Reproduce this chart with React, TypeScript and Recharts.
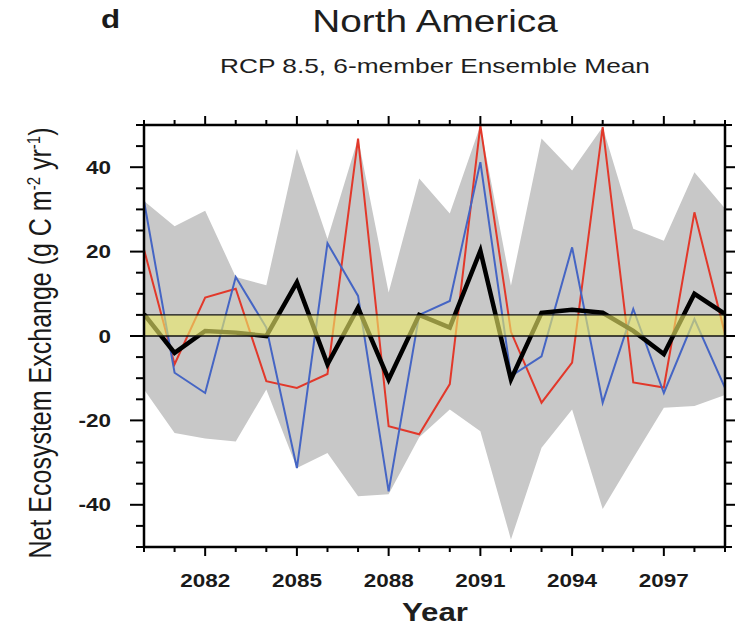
import React from 'react';
import { ComposedChart, Area, Line, XAxis, YAxis, ReferenceArea, ReferenceLine } from 'recharts';

// years of the run
const years = [2080, 2081, 2082, 2083, 2084, 2085, 2086, 2087, 2088, 2089, 2090, 2091, 2092, 2093, 2094, 2095, 2096, 2097, 2098, 2099];

// NEE, g C m-2 yr-1
const ensembleMean = [5.2, -4, 1.2, 0.8, 0, 12.7, -6.7, 6.7, -10.3, 5, 2, 20.2, -10.3, 5.5, 6.2, 5.5, 1.2, -4.3, 10, 5.2];
const memberRed = [20.5, -6.7, 9.1, 11.2, -10.7, -12.3, -9, 46.8, -21.4, -23.3, -11.4, 49.9, 1, -15.8, -6.3, 49.5, -11, -12.2, 29.3, 0.5];
const memberBlue = [32, -8.7, -13.5, 14, 2, -31.3, 22, 9.5, -36.8, 5, 8.3, 41.2, -9.5, -4.8, 21, -15.8, 6.4, -13.5, 4, -12.3];
const spreadMax = [32, 26, 29.7, 14, 12, 44.4, 23, 46.8, 10.3, 37.3, 29, 49.9, 11.9, 46.8, 39.2, 49.5, 25.4, 22.6, 38.8, 30.2];
const spreadMin = [-12.7, -23, -24.3, -25, -12.7, -31.3, -27.7, -38, -37.5, -24, -17.4, -22.6, -48.2, -26.5, -17.4, -41, -28.9, -17, -16.6, -14];

// the yellow band
const bandLow = 0;
const bandHigh = 5;

const xTicks = years;
const xTickLabels = [2082, 2085, 2088, 2091, 2094, 2097];
const yTicks = [-50, -45, -40, -35, -30, -25, -20, -15, -10, -5, 0, 5, 10, 15, 20, 25, 30, 35, 40, 45, 50];
const yTickLabels = [-40, -20, 0, 20, 40];

const data = years.map((year, i) => ({
  year,
  mean: ensembleMean[i],
  red: memberRed[i],
  blue: memberBlue[i],
  spread: [spreadMin[i], spreadMax[i]],
}));

const FONT = '"Liberation Sans", Arial, Helvetica, sans-serif';
const WIDE = 1.25; // the original lettering is stretched sideways

const BottomTick = (props: any) => {
  const { x, y, payload } = props;
  const major = xTickLabels.includes(payload.value);
  return (
    <g>
      <line x1={x} y1={y} x2={x} y2={y + (major ? 9 : 5)} stroke="#000" strokeWidth={2} />
      {major && (
        <text
          transform={`translate(${x},${y + 40}) scale(${WIDE},1)`}
          textAnchor="middle"
          fontFamily={FONT}
          fontWeight="bold"
          fontSize={18}
          fill="#1a1a1a"
        >
          {payload.value}
        </text>
      )}
    </g>
  );
};

const TopTick = (props: any) => {
  const { x, y, payload } = props;
  const major = xTickLabels.includes(payload.value);
  return <line x1={x} y1={y} x2={x} y2={y - (major ? 9 : 5)} stroke="#000" strokeWidth={2} />;
};

const LeftTick = (props: any) => {
  const { x, y, payload } = props;
  const major = yTickLabels.includes(payload.value);
  return (
    <g>
      <line x1={x} y1={y} x2={x - (major ? 14 : 8)} y2={y} stroke="#000" strokeWidth={2} />
      {major && (
        <text
          transform={`translate(${x - 33},${y + 6.5}) scale(${WIDE},1)`}
          textAnchor="end"
          fontFamily={FONT}
          fontWeight="bold"
          fontSize={18}
          fill="#1a1a1a"
        >
          {payload.value}
        </text>
      )}
    </g>
  );
};

const RightTick = (props: any) => {
  const { x, y, payload } = props;
  const major = yTickLabels.includes(payload.value);
  return <line x1={x} y1={y} x2={x + (major ? 10 : 7)} y2={y} stroke="#000" strokeWidth={2} />;
};

const centred = (top: number, size: number, bold = false): React.CSSProperties => ({
  position: 'absolute',
  left: 0,
  width: 870,
  top,
  lineHeight: `${size}px`,
  fontSize: size,
  fontWeight: bold ? 'bold' : 'normal',
  textAlign: 'center',
  whiteSpace: 'nowrap',
  transform: `scaleX(${WIDE})`,
  color: '#1e1e1e',
});

export default function App() {
  return (
    <div style={{ position: 'absolute', left: 0, top: 0, width: 736, height: 626, background: '#fff', fontFamily: FONT }}>
      <div
        style={{
          position: 'absolute',
          left: 101,
          top: 7,
          fontSize: 25,
          lineHeight: '25px',
          fontWeight: 'bold',
          color: '#1a1a1a',
          transform: `scaleX(${WIDE})`,
          transformOrigin: 'left top',
        }}
      >
        d
      </div>
      <div style={centred(6, 31)}>North America</div>
      <div style={centred(55, 21)}>RCP 8.5, 6-member Ensemble Mean</div>
      <div
        style={{
          position: 'absolute',
          left: 40 - 260,
          top: 343 - 15,
          width: 520,
          height: 30,
          lineHeight: '30px',
          textAlign: 'center',
          fontSize: 25,
          color: '#1a1a1a',
          whiteSpace: 'nowrap',
          transform: `scaleX(${WIDE}) rotate(-90deg)`,
        }}
      >
        Net Ecosystem Exchange (g C m<span style={{ fontSize: 15, verticalAlign: 'super', lineHeight: 0 }}>-2</span> yr
        <span style={{ fontSize: 15, verticalAlign: 'super', lineHeight: 0 }}>-1</span>)
      </div>
      <div style={centred(600, 25, true)}>Year</div>

      <ComposedChart width={736} height={626} data={data} margin={{ top: 115, right: 0, bottom: 39, left: 84 }}>
        <XAxis
          xAxisId={0}
          dataKey="year"
          type="number"
          domain={[2080, 2099]}
          ticks={xTicks}
          interval={0}
          tickSize={0}
          tickMargin={0}
          tick={<BottomTick />}
          axisLine={{ stroke: '#000', strokeWidth: 2.5 }}
          height={40}
          allowDataOverflow
        />
        <XAxis
          xAxisId="top"
          orientation="top"
          dataKey="year"
          type="number"
          domain={[2080, 2099]}
          ticks={xTicks}
          interval={0}
          tickSize={0}
          tickMargin={0}
          tick={<TopTick />}
          axisLine={{ stroke: '#000', strokeWidth: 2.5 }}
          height={10}
          allowDataOverflow
        />
        <YAxis
          yAxisId={0}
          type="number"
          domain={[-50, 50]}
          ticks={yTicks}
          interval={0}
          tickSize={0}
          tickMargin={0}
          tick={<LeftTick />}
          axisLine={{ stroke: '#000', strokeWidth: 2.5 }}
          width={60}
          allowDataOverflow
        />
        <YAxis
          yAxisId="right"
          orientation="right"
          type="number"
          domain={[-50, 50]}
          ticks={yTicks}
          interval={0}
          tickSize={0}
          tickMargin={0}
          tick={<RightTick />}
          axisLine={{ stroke: '#000', strokeWidth: 2.5 }}
          width={11}
          allowDataOverflow
        />
        <Area dataKey="spread" fill="#c8c8c8" fillOpacity={1} stroke="none" isAnimationActive={false} />
        <Line dataKey="red" stroke="#e2382a" strokeWidth={2} dot={false} isAnimationActive={false} />
        <Line dataKey="blue" stroke="#4565c4" strokeWidth={2} dot={false} isAnimationActive={false} />
        <Line dataKey="mean" stroke="#000" strokeWidth={4.5} dot={false} isAnimationActive={false} />
        <ReferenceArea y1={bandLow} y2={bandHigh} fill="#ecea68" fillOpacity={0.62} stroke="none" zIndex={450} />
        <ReferenceLine y={bandLow} stroke="#111" strokeWidth={1.3} zIndex={460} />
        <ReferenceLine y={bandHigh} stroke="#111" strokeWidth={1.3} zIndex={460} />
      </ComposedChart>
    </div>
  );
}
